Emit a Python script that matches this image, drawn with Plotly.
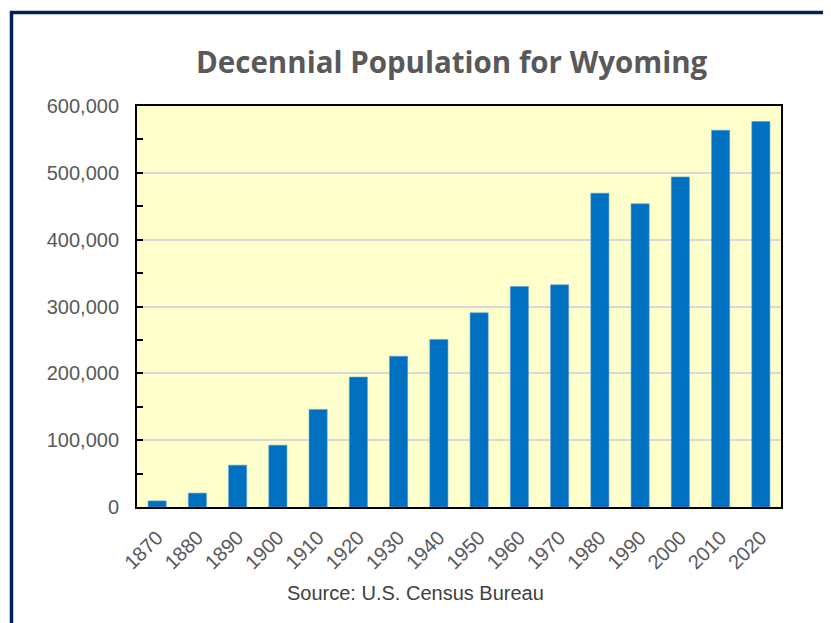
import plotly.graph_objects as go

years = ["1870", "1880", "1890", "1900", "1910", "1920", "1930", "1940",
         "1950", "1960", "1970", "1980", "1990", "2000", "2010", "2020"]
population = [9118, 20789, 62555, 92531, 145965, 194402, 225565, 250742,
              290529, 330066, 332416, 469557, 453588, 493782, 563626, 576851]
y_ticks = [0, 100000, 200000, 300000, 400000, 500000, 600000]
y_tick_labels = ["0", "100,000", "200,000", "300,000", "400,000", "500,000", "600,000"]

W, H = 831, 623
OFF = 8  # page body margin
# target plot area in screen pixels: x 137..781, y 106..507
L, R, T, B = 137 - OFF, W - 781 + OFF, 106 - OFF, H - 507 + OFF
pw, ph = W - L - R, H - T - B

def px(x):
    return (x - OFF - L) / pw

def py(y):
    return (H - B - (y - OFF)) / ph

fig = go.Figure(go.Bar(
    x=years, y=population,
    marker=dict(color="#0070C0", line=dict(color="#5B9BD5", width=0.6)),
))

fig.update_layout(
    width=W, height=H,
    margin=dict(l=L, r=R, t=T, b=B),
    paper_bgcolor="white",
    plot_bgcolor="#FFFFCC",
    bargap=0.55,
    showlegend=False,
    font=dict(family="Liberation Sans, Arial, sans-serif", color="#595959"),
    shapes=[
        dict(type="rect", xref="paper", yref="paper",
             x0=px(11.5), x1=px(W + 60), y0=py(12.5), y1=py(H + 60),
             line=dict(color="#002060", width=3.5), layer="above"),
    ],
    annotations=[
        dict(text="<b>Decennial Population for Wyoming</b>", xref="paper", yref="paper",
             x=px(452), y=py(62), showarrow=False, xanchor="center", yanchor="middle",
             font=dict(family="Open Sans, Lato, sans-serif", size=29.5, color="#595959")),
        dict(text="Source: U.S. Census Bureau", xref="paper", yref="paper",
             x=px(415), y=py(593), showarrow=False, xanchor="center", yanchor="middle",
             font=dict(family="Liberation Sans, Arial, sans-serif", size=20, color="#404040")),
    ],
)

fig.update_xaxes(
    type="category", tickangle=-45, showline=True, mirror=True,
    linecolor="black", linewidth=2, ticks="",
    ticklabelstandoff=9,
    tickfont=dict(size=20, color="#595959"),
)
fig.update_yaxes(
    range=[0, 600000], tickvals=y_ticks, ticktext=y_tick_labels,
    showline=True, mirror=True, linecolor="black", linewidth=2,
    ticks="inside", ticklen=6, tickcolor="black", tickwidth=2,
    minor=dict(dtick=50000, ticks="inside", ticklen=6, tickcolor="black", tickwidth=2, showgrid=False),
    showgrid=True, gridcolor="#D9D9D9", gridwidth=1.5,
    ticklabelstandoff=12,
    tickfont=dict(size=20, color="#595959"),
    zeroline=False,
)

fig.write_html("out.html")
